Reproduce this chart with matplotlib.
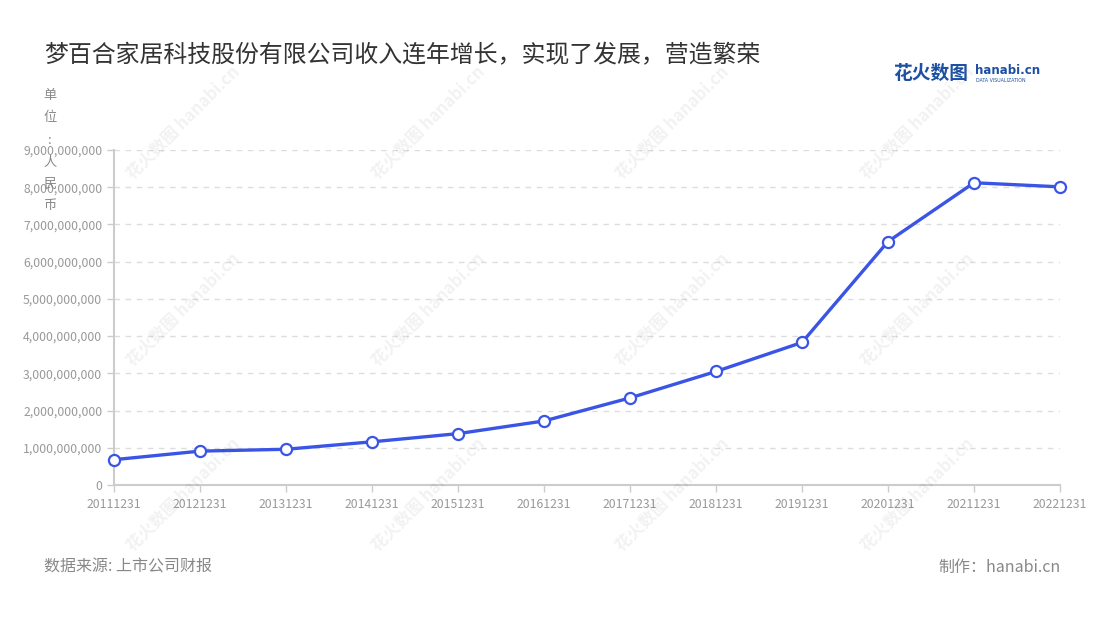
import numpy as np
import matplotlib.pyplot as plt
from matplotlib.ticker import FuncFormatter

plt.rcParams['font.family'] = ['Noto Sans CJK SC', 'DejaVu Sans']

# 数据
anni = ['20111231', '20121231', '20131231', '20141231', '20151231', '20161231',
        '20171231', '20181231', '20191231', '20201231', '20211231', '20221231']
ricavi = [0.68e9, 0.91e9, 0.96e9, 1.16e9, 1.38e9, 1.72e9,
          2.34e9, 3.05e9, 3.83e9, 6.54e9, 8.12e9, 8.01e9]
y_ticks = [0, 1e9, 2e9, 3e9, 4e9, 5e9, 6e9, 7e9, 8e9, 9e9]

titolo = '梦百合家居科技股份有限公司收入连年增长，实现了发展，营造繁荣'
unita = ['单', '位', ':', '人', '民', '币']
fonte = '数据来源: 上市公司财报'
autore = '制作：hanabi.cn'

W, H = 1100, 620
fig = plt.figure(figsize=(11, 6.2), dpi=100)
ax = fig.add_axes([114 / W, 1 - 485 / H, (1060 - 114) / W, (485 - 150) / H])

x = np.arange(len(anni))
ax.plot(x, ricavi, color='#3a55e6', lw=2.4, marker='o', ms=8,
        mfc='white', mec='#3a55e6', mew=1.6, zorder=5, clip_on=False)

ax.set_xlim(0, len(anni) - 1)
ax.set_ylim(0, 9e9)
ax.set_xticks(x)
ax.set_xticklabels(anni)
ax.set_yticks(y_ticks)
ax.yaxis.set_major_formatter(FuncFormatter(lambda v, p: f'{int(v):,}'))
ax.tick_params(colors='#cccccc', labelcolor='#999999', labelsize=8.8, length=5, width=1)
ax.tick_params(axis='x', pad=4)
ax.grid(axis='y', ls=(0, (4, 4)), color='#dddddd', lw=1)
for s in ['top', 'right']:
    ax.spines[s].set_visible(False)
for s in ['left', 'bottom']:
    ax.spines[s].set_color('#cccccc')
    ax.spines[s].set_linewidth(1.5)

# titolo e testi
fig.text(44 / W, 1 - 56 / H, titolo, fontsize=17.2, color='#333333', va='center', ha='left')
# unità, un carattere per riga
for i, c in enumerate(unita):
    fig.text(50 / W, 1 - (96 + i * 22) / H, c, fontsize=9.5, color='#888888',
             ha='center', va='center')
fig.text(44 / W, 1 - 567 / H, fonte, fontsize=11.5, color='#888888', va='center', ha='left')
fig.text(1061 / W, 1 - 567 / H, autore, fontsize=11.5, color='#888888', va='center', ha='right')

# logo
fig.text(893 / W, 1 - 73 / H, '花火数图', fontsize=13.5, color='#1d4fa3', fontweight='bold',
         va='center', ha='left')
fig.text(975 / W, 1 - 70 / H, 'hanabi.cn', fontsize=8.5, color='#1d4fa3', fontweight='bold',
         va='center', ha='left', family='DejaVu Sans')
fig.text(976 / W, 1 - 80 / H, 'DATA VISUALIZATION', fontsize=3.4, color='#1d4fa3',
         va='center', ha='left', family='DejaVu Sans')

# filigrana
for cy in [123, 310, 495]:
    for cx in [183, 428, 672, 917]:
        fig.text(cx / W, 1 - cy / H, '花火数图 hanabi.cn', fontsize=12, fontweight='bold',
                 color='#000000', alpha=0.055, rotation=45, ha='center', va='center',
                 rotation_mode='anchor', zorder=0)

fig.savefig('out.png', dpi=100)
